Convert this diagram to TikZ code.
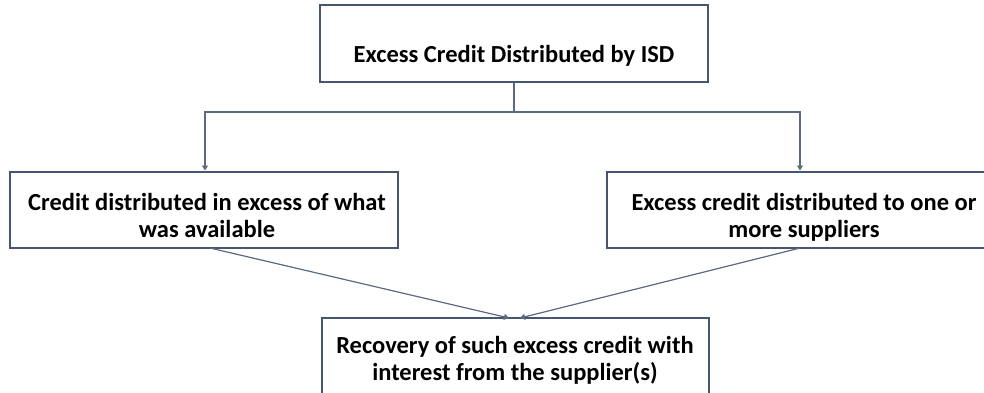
\documentclass[tikz,border=0pt]{standalone}
\usepackage{fontspec}
\setmainfont{Carlito}
\usetikzlibrary{arrows.meta}
\definecolor{boxline}{HTML}{46566E}
\definecolor{linkline}{HTML}{5B6A80}
\begin{document}
\begin{tikzpicture}[x=1pt,y=-1pt,
  box/.style={draw=boxline, line width=2pt, fill=white, inner sep=0pt},
  txt/.style={font=\fontsize{24.5}{27}\selectfont\bfseries, align=center, inner sep=0pt, text=black},
  link/.style={draw=linkline, line width=1.2pt},
  arr/.style={link, -{Triangle[width=6pt,length=5pt]}}]
\useasboundingbox (0,0) rectangle (984,392);
\clip (0,0) rectangle (984,392);
% boxes
\node[box, minimum width=388pt, minimum height=77pt] (top) at (514,43.5) {};
\node[box, minimum width=388pt, minimum height=76pt] (left) at (204,209.5) {};
\node[box, minimum width=386pt, minimum height=76pt] (right) at (800,209.5) {};
\node[box, minimum width=387pt, minimum height=76pt] (bottom) at (515,356) {};
% labels (base anchor sits on the last line)
\node[txt, anchor=base] (toptxt) at (514,62) {Excess Credit Distributed by ISD};
\node[txt, anchor=base] (lefttxt) at (207,237) {Credit distributed in excess of what\\was available};
\node[txt, anchor=base] (righttxt) at (804,237) {Excess credit distributed to one or\\more suppliers};
\node[txt, anchor=base] (bottomtxt) at (515,380) {Recovery of such excess credit with\\interest from the supplier(s)};
% connectors
\coordinate (split) at (514,112);
\coordinate (lstart) at (210,248);
\coordinate (rstart) at (800,248);
\coordinate (lend) at (509,318);
\coordinate (rend) at (520,318);
\draw[link] (top.south) -- (split);
\draw[arr] (split) -| ([xshift=1pt]left.north);
\draw[arr] (split) -| (right.north);
\draw[arr] (lstart) -- (lend);
\draw[arr] (rstart) -- (rend);
\end{tikzpicture}
\end{document}
